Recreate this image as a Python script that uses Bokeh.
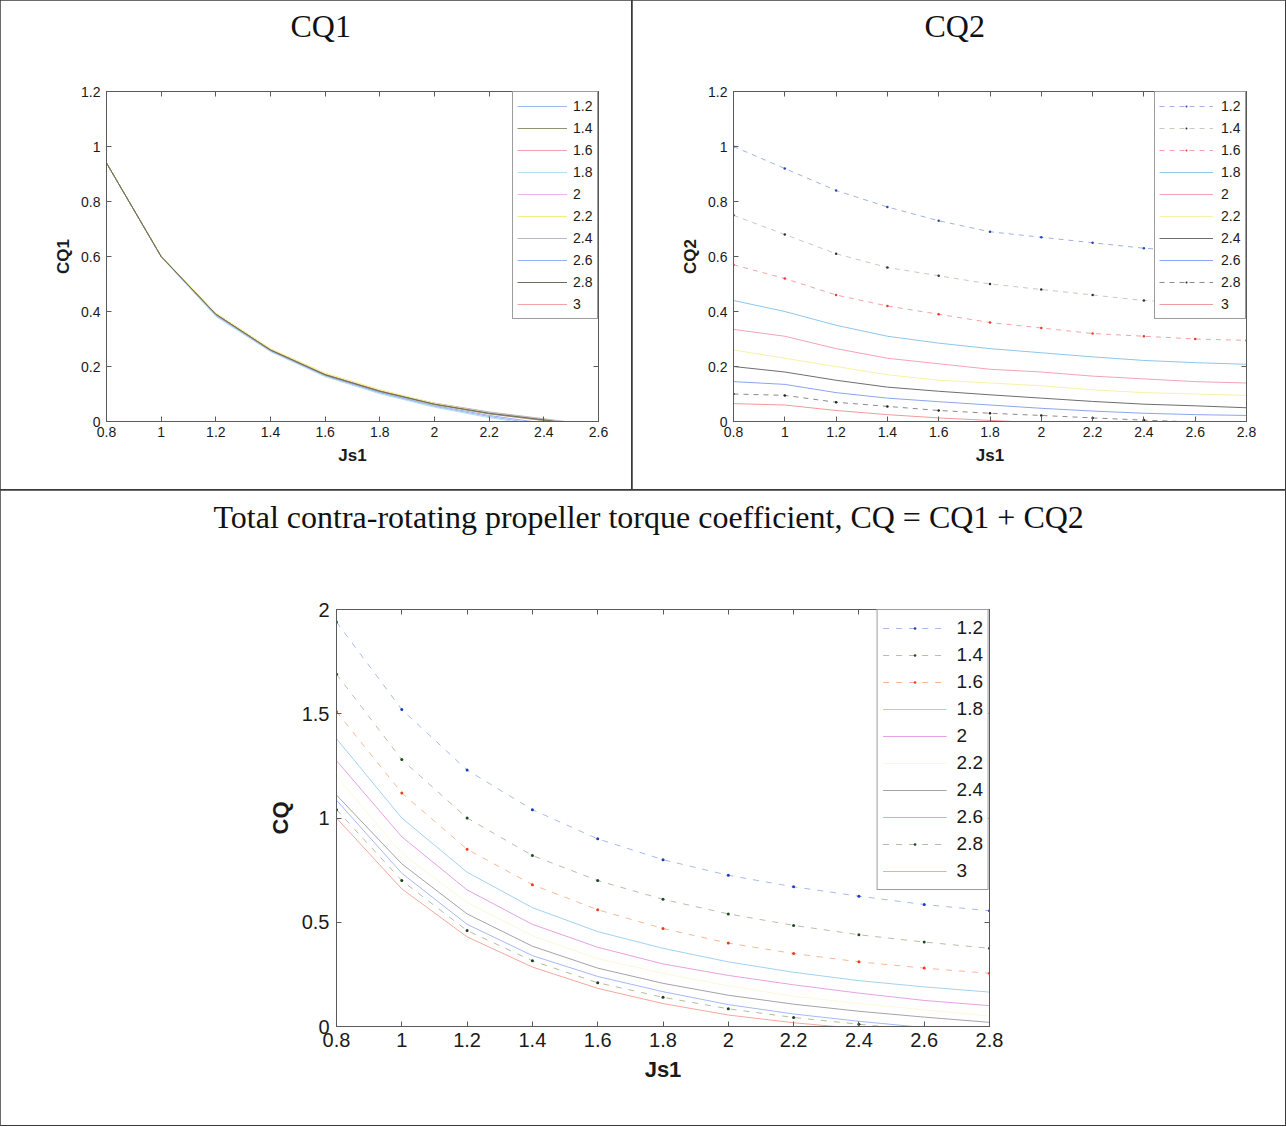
from bokeh.plotting import figure
from bokeh.models import (Range1d, FixedTicker, LinearAxis, Legend, LegendItem, Title,
                          CustomJSTickFormatter)
from bokeh.layouts import column, row
from bokeh.embed import file_html
from bokeh.resources import INLINE

# ---------------- data ----------------
js1 = [0.8, 1.0, 1.2, 1.4, 1.6, 1.8, 2.0, 2.2, 2.4, 2.6, 2.8]
series_names = ["1.2", "1.4", "1.6", "1.8", "2", "2.2", "2.4", "2.6", "2.8", "3"]

# CQ1 (forward propeller)
cq1_12 = [0.94, 0.600, 0.385, 0.258, 0.166, 0.104, 0.055, 0.018, -0.012, -0.040, -0.065]
cq1_14 = [0.94, 0.600, 0.390, 0.260, 0.170, 0.110, 0.062, 0.028, 0.004, -0.025, -0.050]
cq1_16 = [0.94, 0.600, 0.390, 0.262, 0.172, 0.112, 0.065, 0.030, 0.006, -0.022, -0.048]
cq1_18 = [0.94, 0.598, 0.382, 0.254, 0.163, 0.101, 0.052, 0.014, -0.016, -0.045, -0.070]
cq1_20 = [0.94, 0.600, 0.388, 0.258, 0.168, 0.108, 0.066, 0.033, 0.007, -0.020, -0.045]
cq1_22 = [0.94, 0.602, 0.395, 0.265, 0.176, 0.116, 0.066, 0.030, 0.004, -0.024, -0.050]
cq1_24 = [0.94, 0.600, 0.390, 0.260, 0.170, 0.110, 0.067, 0.035, 0.010, -0.015, -0.040]
cq1_26 = [0.94, 0.600, 0.387, 0.257, 0.167, 0.106, 0.058, 0.022, -0.006, -0.035, -0.060]
cq1_28 = [0.94, 0.600, 0.390, 0.260, 0.170, 0.110, 0.063, 0.030, 0.006, -0.020, -0.045]
cq1_30 = [0.94, 0.600, 0.390, 0.260, 0.171, 0.111, 0.062, 0.028, 0.003, -0.025, -0.050]

# CQ2 (aft propeller)
cq2_12 = [1.000, 0.920, 0.840, 0.780, 0.730, 0.690, 0.670, 0.650, 0.630, 0.620, 0.610]
cq2_14 = [0.750, 0.680, 0.610, 0.560, 0.530, 0.500, 0.480, 0.460, 0.440, 0.430, 0.420]
cq2_16 = [0.570, 0.520, 0.460, 0.420, 0.390, 0.360, 0.340, 0.320, 0.310, 0.300, 0.295]
cq2_18 = [0.440, 0.400, 0.350, 0.310, 0.285, 0.265, 0.250, 0.235, 0.222, 0.214, 0.208]
cq2_20 = [0.335, 0.310, 0.265, 0.230, 0.210, 0.190, 0.180, 0.165, 0.155, 0.145, 0.140]
cq2_22 = [0.260, 0.230, 0.200, 0.170, 0.150, 0.140, 0.130, 0.115, 0.105, 0.100, 0.095]
cq2_24 = [0.200, 0.180, 0.150, 0.125, 0.110, 0.097, 0.085, 0.073, 0.063, 0.057, 0.050]
cq2_26 = [0.145, 0.135, 0.105, 0.085, 0.072, 0.060, 0.048, 0.038, 0.030, 0.025, 0.022]
cq2_28 = [0.100, 0.095, 0.070, 0.055, 0.040, 0.030, 0.022, 0.013, 0.005, -0.002, -0.010]
cq2_30 = [0.065, 0.060, 0.040, 0.025, 0.013, 0.004, -0.005, -0.012, -0.020, -0.025, -0.030]

# CQ = CQ1 + CQ2 (total)
cq_12 = [1.940, 1.520, 1.230, 1.040, 0.900, 0.800, 0.725, 0.670, 0.625, 0.585, 0.555]
cq_14 = [1.690, 1.280, 1.000, 0.820, 0.700, 0.610, 0.540, 0.485, 0.440, 0.405, 0.375]
cq_16 = [1.510, 1.120, 0.850, 0.680, 0.560, 0.470, 0.400, 0.350, 0.310, 0.280, 0.255]
cq_18 = [1.380, 1.000, 0.740, 0.570, 0.455, 0.375, 0.310, 0.260, 0.220, 0.190, 0.165]
cq_20 = [1.275, 0.910, 0.655, 0.490, 0.380, 0.300, 0.245, 0.200, 0.160, 0.125, 0.100]
cq_22 = [1.200, 0.830, 0.595, 0.435, 0.325, 0.255, 0.195, 0.145, 0.110, 0.080, 0.050]
cq_24 = [1.110, 0.780, 0.540, 0.385, 0.280, 0.207, 0.150, 0.107, 0.073, 0.045, 0.020]
cq_26 = [1.085, 0.735, 0.490, 0.340, 0.240, 0.167, 0.105, 0.060, 0.025, -0.005, -0.030]
cq_28 = [1.040, 0.700, 0.460, 0.315, 0.210, 0.140, 0.085, 0.043, 0.011, -0.020, -0.050]
cq_30 = [1.000, 0.660, 0.430, 0.285, 0.183, 0.110, 0.055, 0.018, -0.010, -0.040, -0.070]

cq1_series = [cq1_12, cq1_14, cq1_16, cq1_18, cq1_20, cq1_22, cq1_24, cq1_26, cq1_28, cq1_30]
cq2_series = [cq2_12, cq2_14, cq2_16, cq2_18, cq2_20, cq2_22, cq2_24, cq2_26, cq2_28, cq2_30]
cq_series = [cq_12, cq_14, cq_16, cq_18, cq_20, cq_22, cq_24, cq_26, cq_28, cq_30]

# ticks
x_ticks_a = [0.8, 1.0, 1.2, 1.4, 1.6, 1.8, 2.0, 2.2, 2.4, 2.6]
x_labels_a = ["0.8", "1", "1.2", "1.4", "1.6", "1.8", "2", "2.2", "2.4", "2.6"]
x_ticks_b = [0.8, 1.0, 1.2, 1.4, 1.6, 1.8, 2.0, 2.2, 2.4, 2.6, 2.8]
x_labels_b = ["0.8", "1", "1.2", "1.4", "1.6", "1.8", "2", "2.2", "2.4", "2.6", "2.8"]
y_ticks_12 = [0, 0.2, 0.4, 0.6, 0.8, 1.0, 1.2]
y_labels_12 = ["0", "0.2", "0.4", "0.6", "0.8", "1", "1.2"]
y_ticks_cq = [0, 0.5, 1.0, 1.5, 2.0]
y_labels_cq = ["0", "0.5", "1", "1.5", "2"]

# ---------------- styles ----------------
cq1_colors = ["#a4b8ec", "#8e9470", "#f0a4ac", "#b0e0ee", "#e8b8e8",
              "#f2ee80", "#bcb8c0", "#98b0f0", "#6e6e58", "#f4a4a0"]
cq1_draw_order = [0, 2, 3, 4, 6, 7, 9, 5, 1, 8]
cq2_colors = ["#9fb2e4", "#c6cabe", "#f4a4a4", "#8ec6ea", "#f2a4b4",
              "#f6f2a8", "#6e6e6e", "#8ca4f0", "#8a8a8a", "#f29a9a"]
cq2_dots = ["#2a48b0", "#303030", "#e83a2a", None, None, None, None, None, "#202020", None]
cq_colors = ["#a6bcea", "#b8bea8", "#f6b894", "#a2d2f2", "#e6a2e2",
             "#fafad8", "#a4a4a4", "#a4baf4", "#b4bca4", "#f6a89c"]
cq_dots = ["#1a3cc0", "#1e4a22", "#f03a18", None, None, None, None, None, "#1e3e1e", None]
default_order = list(range(10))

FONT = "Liberation Sans"
SERIF = "Liberation Serif"
CELL_OUTLINE = {"outline": "2px solid #3a3a3a", "outline-offset": "-1px"}


def style_axis(ax, ticks, labels, fs, lab_fs, mirror=False, label_standoff=6,
               axis_standoff=5, spacer=0):
    ax.ticker = FixedTicker(ticks=ticks)
    ax.major_tick_in = 5
    ax.major_tick_out = 0
    ax.minor_tick_line_color = None
    ax.axis_line_color = "#5a5a5a"
    ax.major_tick_line_color = "#5a5a5a"
    if mirror:
        ax.formatter = CustomJSTickFormatter(code="return ' '")
        ax.major_label_standoff = spacer
        ax.major_label_text_font_size = "1px"
    else:
        ax.major_label_overrides = dict(zip(ticks, labels))
        ax.major_label_text_font = FONT
        ax.major_label_text_font_size = fs
        ax.major_label_text_color = "#1a1a1a"
        ax.major_label_standoff = label_standoff
        ax.axis_label_text_font = FONT
        ax.axis_label_text_font_style = "bold"
        ax.axis_label_text_font_size = lab_fs
        ax.axis_label_text_color = "#1a1a1a"
        ax.axis_label_standoff = axis_standoff


def make_fig(cell_w, cell_h, fl, ft, fw, fh, xr, yr, xt, xl, yt, yl, xlabel, ylabel,
             fs, lab_fs, xls, yls, title, title_offset, title_spacer):
    p = figure(frame_width=fw, frame_height=fh, x_range=Range1d(*xr), y_range=Range1d(*yr),
               output_backend="svg", toolbar_location=None,
               min_border_left=fl, min_border_top=ft,
               min_border_right=cell_w - fl - fw, min_border_bottom=cell_h - ft - fh)
    p.title = Title(text=title, align="left", offset=title_offset, vertical_align="middle",
                    standoff=0, text_font=SERIF, text_font_size="32px",
                    text_font_style="normal", text_color="#111111")
    p.grid.grid_line_color = None
    p.outline_line_color = "#5a5a5a"
    p.background_fill_color = "white"
    p.border_fill_color = "white"
    style_axis(p.xaxis[0], xt, xl, fs, lab_fs, label_standoff=xls[0], axis_standoff=xls[1])
    style_axis(p.yaxis[0], yt, yl, fs, lab_fs, label_standoff=yls[0], axis_standoff=yls[1])
    p.xaxis[0].axis_label = xlabel
    p.yaxis[0].axis_label = ylabel
    top = LinearAxis()
    right = LinearAxis()
    style_axis(top, xt, xl, fs, lab_fs, mirror=True, spacer=title_spacer)
    style_axis(right, yt, yl, fs, lab_fs, mirror=True, spacer=0)
    p.add_layout(top, "above")
    p.add_layout(right, "right")
    p.styles = CELL_OUTLINE
    return p


def add_series(p, series, colors, dots, dash, dot_size, order):
    rmap = {}
    for i in order:
        vals, col, dot = series[i], colors[i], dots[i]
        rs = []
        if dot is None:
            rs.append(p.line(js1, vals, line_color=col, line_width=1))
        else:
            rs.append(p.line(js1, vals, line_color=col, line_width=1, line_dash=dash))
            rs.append(p.scatter(js1, vals, marker="dot", size=dot_size,
                                fill_color=dot, line_color=dot))
        rmap[i] = rs
    return [LegendItem(label=series_names[i], renderers=rmap[i]) for i in range(10)]


def add_legend(p, items, fs, pad, spacing, gw, gh, standoff):
    lg = Legend(items=items, location="top_right", margin=0, padding=pad, spacing=spacing,
                glyph_width=gw, glyph_height=gh, label_height=gh, label_standoff=standoff,
                label_text_font=FONT, label_text_font_size=fs, label_text_color="#1a1a1a",
                border_line_color="#3a3a3a", border_line_width=1,
                background_fill_color="white", background_fill_alpha=1.0)
    p.add_layout(lg)


# ---------------- CQ1 ----------------
pa = make_fig(632, 490, 106, 91, 492, 330, (0.8, 2.6), (0, 1.2),
              x_ticks_a, x_labels_a, y_ticks_12, y_labels_12, "Js1", "CQ1",
              "14px", "17px", (5, 6), (6, 5), "CQ1", 184, 43)
none_dots = [None] * 10
items_a = add_series(pa, cq1_series, cq1_colors, none_dots, "solid", 10, cq1_draw_order)
add_legend(pa, items_a, "14px", 4, 2, 50, 20, 6)

# ---------------- CQ2 ----------------
pb = make_fig(653, 490, 101, 91, 513, 330, (0.8, 2.8), (0, 1.2),
              x_ticks_b, x_labels_b, y_ticks_12, y_labels_12, "Js1", "CQ2",
              "14px", "17px", (5, 6), (6, 5), "CQ2", 191, 43)
items_b = add_series(pb, cq2_series, cq2_colors, cq2_dots, "5 5", 10, default_order)
add_legend(pb, items_b, "14px", 4, 2, 54, 20, 8)

# ---------------- CQ total ----------------
pc = make_fig(1285, 635, 336, 119, 653, 417, (0.8, 2.8), (0, 2.0),
              x_ticks_b, x_labels_b, y_ticks_cq, y_labels_cq, "Js1", "CQ",
              "20px", "22px", (6, 7), (7, 6),
              "Total contra-rotating propeller torque coefficient, CQ = CQ1 + CQ2", -123, 70)
items_c = add_series(pc, cq_series, cq_colors, cq_dots, "6 7", 12, default_order)
add_legend(pc, items_c, "19px", 5, 1, 64, 26, 10)

layout = column(row(pa, pb, spacing=0), pc, spacing=0)
open("out.html", "w").write(file_html(layout, INLINE))
